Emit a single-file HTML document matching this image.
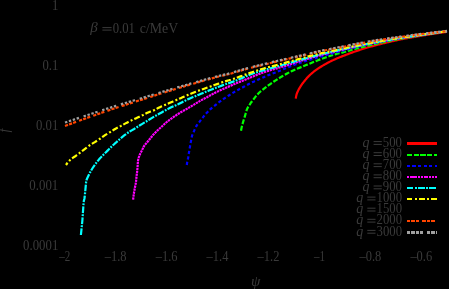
<!DOCTYPE html>
<html><head><meta charset="utf-8"><title>plot</title>
<style>
html,body{margin:0;padding:0;background:#000;}
body{width:449px;height:289px;overflow:hidden;font-family:"Liberation Serif",serif;}
svg{display:block;}
text{font-family:"Liberation Serif",serif;font-size:14px;fill:#3a3a3a;}
.i{font-style:italic;}
g.t{filter:opacity(1);}
path{fill:none;stroke-width:2.2;}
.eq{stroke:#3a3a3a;stroke-width:1;shape-rendering:auto;}
</style></head><body>
<svg width="449" height="289" viewBox="0 0 449 289">
<rect width="449" height="289" fill="#000"/>
<g class="t">
<text x="52.0" y="9.6" textLength="6.3" lengthAdjust="spacingAndGlyphs">1</text>
<text x="42.4" y="70.0" textLength="15.9" lengthAdjust="spacingAndGlyphs">0.1</text>
<text x="35.9" y="129.8" textLength="22.4" lengthAdjust="spacingAndGlyphs">0.01</text>
<text x="29.3" y="189.8" textLength="29.0" lengthAdjust="spacingAndGlyphs">0.001</text>
<text x="23.1" y="249.5" textLength="35.2" lengthAdjust="spacingAndGlyphs">0.0001</text>
<text x="59.2" y="260.8" textLength="11.0" lengthAdjust="spacingAndGlyphs">–2</text>
<text x="104.7" y="260.8" textLength="21.8" lengthAdjust="spacingAndGlyphs">–1.8</text>
<text x="155.7" y="260.8" textLength="21.8" lengthAdjust="spacingAndGlyphs">–1.6</text>
<text x="206.6" y="260.8" textLength="21.8" lengthAdjust="spacingAndGlyphs">–1.4</text>
<text x="257.6" y="260.8" textLength="21.8" lengthAdjust="spacingAndGlyphs">–1.2</text>
<text x="313.9" y="260.8" textLength="11.0" lengthAdjust="spacingAndGlyphs">–1</text>
<text x="359.5" y="260.8" textLength="21.8" lengthAdjust="spacingAndGlyphs">–0.8</text>
<text x="410.4" y="260.8" textLength="21.8" lengthAdjust="spacingAndGlyphs">–0.6</text>
<text x="90.3" y="32.4" class="i" style="font-size:15px">β</text>
<path class="eq" d="M102.4,27.6 H111.6 M102.4,30.1 H111.6"/>
<text x="112.7" y="32.6" textLength="22.3" lengthAdjust="spacingAndGlyphs">0.01</text>
<text x="139.8" y="32.6" textLength="38.4" lengthAdjust="spacingAndGlyphs">c/MeV</text>
<text x="255.7" y="286.3" text-anchor="middle" class="i" style="font-size:15px">ψ</text>
<text transform="translate(8.7,130.5) rotate(-90)" text-anchor="middle" class="i">f</text>
</g>
<path d="M295.80,98.70 L295.89,97.82 L296.02,96.95 L296.18,96.10 L296.37,95.25 L296.57,94.42 L296.84,93.59 L297.15,92.77 L297.50,91.97 L297.88,91.17 L298.26,90.39 L298.65,89.61 L299.06,88.84 L299.50,88.09 L299.95,87.34 L300.42,86.60 L300.89,85.87 L301.37,85.14 L301.87,84.43 L302.38,83.72 L302.90,83.02 L303.43,82.32 L303.97,81.64 L304.51,80.96 L305.06,80.28 L305.61,79.60 L306.18,78.93 L306.75,78.27 L307.33,77.62 L307.93,76.99 L308.53,76.37 L309.15,75.75 L309.78,75.15 L310.42,74.55 L311.07,73.97 L311.73,73.39 L312.39,72.83 L313.07,72.27 L313.74,71.72 L314.43,71.19 L315.12,70.66 L315.82,70.15 L316.53,69.64 L317.25,69.14 L317.97,68.65 L318.70,68.16 L319.43,67.69 L320.17,67.22 L320.90,66.76 L321.65,66.30 L322.39,65.85 L323.14,65.40 L323.89,64.96 L324.65,64.53 L325.41,64.10 L326.17,63.67 L326.94,63.25 L327.71,62.84 L328.48,62.43 L329.25,62.03 L330.03,61.64 L330.81,61.25 L331.59,60.86 L332.38,60.49 L333.16,60.12 L333.96,59.75 L334.75,59.39 L335.55,59.03 L336.35,58.68 L337.15,58.34 L337.95,58.00 L338.76,57.66 L339.56,57.33 L340.38,57.02 L341.19,56.70 L342.00,56.39 L342.82,56.07 L343.63,55.76 L344.44,55.44 L345.25,55.12 L346.07,54.81 L346.88,54.49 L347.69,54.18 L348.51,53.87 L349.33,53.56 L350.14,53.26 L350.96,52.95 L351.78,52.66 L352.60,52.36 L353.42,52.07 L354.24,51.79 L355.07,51.50 L355.89,51.22 L356.72,50.94 L357.54,50.66 L358.37,50.38 L359.20,50.11 L360.03,49.83 L360.86,49.57 L361.69,49.30 L362.52,49.04 L363.35,48.78 L364.18,48.52 L365.02,48.26 L365.85,48.01 L366.69,47.76 L367.52,47.52 L368.36,47.27 L369.20,47.03 L370.04,46.79 L370.88,46.56 L371.72,46.32 L372.56,46.09 L373.40,45.86 L374.24,45.63 L375.08,45.41 L375.93,45.18 L376.77,44.96 L377.61,44.75 L378.46,44.53 L379.30,44.32 L380.15,44.11 L381.00,43.90 L381.84,43.70 L382.69,43.50 L383.54,43.30 L384.39,43.10 L385.24,42.90 L386.09,42.70 L386.94,42.50 L387.79,42.30 L388.63,42.10 L389.48,41.90 L390.33,41.70 L391.18,41.49 L392.02,41.28 L392.87,41.07 L393.72,40.87 L394.57,40.67 L395.42,40.49 L396.27,40.31 L397.13,40.13 L397.98,39.96 L398.83,39.78 L399.69,39.61 L400.54,39.45 L401.40,39.28 L402.25,39.12 L403.11,38.95 L403.97,38.79 L404.83,38.63 L405.68,38.48 L406.54,38.32 L407.40,38.17 L408.26,38.01 L409.12,37.86 L409.98,37.71 L410.84,37.56 L411.70,37.41 L412.56,37.26 L413.42,37.11 L414.27,36.97 L415.13,36.82 L415.99,36.68 L416.85,36.53 L417.71,36.39 L418.57,36.24 L419.43,36.10 L420.29,35.95 L421.15,35.81 L422.01,35.66 L422.87,35.52 L423.73,35.38 L424.59,35.24 L425.45,35.09 L426.31,34.95 L427.17,34.81 L428.03,34.68 L428.89,34.54 L429.76,34.40 L430.62,34.26 L431.48,34.13 L432.34,33.99 L433.20,33.86 L434.06,33.72 L434.92,33.59 L435.79,33.45 L436.65,33.32 L437.51,33.19 L438.37,33.06 L439.23,32.93 L440.10,32.80 L440.96,32.67 L441.82,32.55 L442.68,32.42 L443.55,32.29 L444.41,32.17 L445.27,32.05 L446.14,31.92 L447.00,31.80" stroke="#ff0000" stroke-width="2.9"/>
<path d="M241.00,130.70 L241.23,129.50 L241.48,128.30 L241.74,127.11 L242.03,125.93 L242.34,124.75 L242.67,123.57 L243.00,122.40 L243.34,121.22 L243.69,120.05 L244.05,118.89 L244.41,117.72 L244.78,116.56 L245.13,115.39 L245.47,114.21 L245.79,113.02 L246.12,111.83 L246.47,110.66 L246.87,109.53 L247.35,108.43 L247.91,107.36 L248.55,106.31 L249.23,105.28 L249.92,104.26 L250.61,103.24 L251.30,102.24 L252.02,101.25 L252.75,100.28 L253.50,99.31 L254.25,98.35 L255.01,97.38 L255.77,96.42 L256.55,95.47 L257.34,94.54 L258.16,93.65 L259.02,92.79 L259.92,91.98 L260.85,91.19 L261.81,90.43 L262.78,89.68 L263.75,88.93 L264.71,88.18 L265.68,87.43 L266.65,86.69 L267.63,85.96 L268.61,85.23 L269.60,84.52 L270.59,83.81 L271.59,83.10 L272.59,82.41 L273.60,81.72 L274.62,81.04 L275.63,80.37 L276.66,79.71 L277.69,79.05 L278.73,78.41 L279.77,77.78 L280.82,77.15 L281.87,76.53 L282.92,75.91 L283.98,75.29 L285.03,74.68 L286.09,74.07 L287.16,73.47 L288.23,72.89 L289.32,72.33 L290.41,71.79 L291.51,71.26 L292.62,70.75 L293.73,70.24 L294.85,69.75 L295.97,69.27 L297.09,68.79 L298.22,68.32 L299.35,67.86 L300.48,67.39 L301.61,66.93 L302.74,66.47 L303.87,66.01 L305.00,65.55 L306.13,65.08 L307.26,64.62 L308.38,64.15 L309.51,63.68 L310.64,63.21 L311.77,62.75 L312.90,62.29 L314.03,61.83 L315.17,61.38 L316.30,60.94 L317.44,60.50 L318.58,60.06 L319.72,59.62 L320.86,59.19 L322.01,58.76 L323.15,58.33 L324.30,57.91 L325.45,57.49 L326.60,57.09 L327.75,56.69 L328.90,56.29 L330.06,55.91 L331.22,55.54 L332.39,55.17 L333.55,54.80 L334.72,54.45 L335.90,54.11 L337.07,53.78 L338.25,53.46 L339.44,53.17 L340.63,52.91 L341.82,52.66 L343.01,52.37 L344.19,52.06 L345.36,51.74 L346.54,51.40 L347.71,51.05 L348.88,50.70 L350.05,50.34 L351.22,49.99 L352.39,49.64 L353.56,49.30 L354.73,48.97 L355.91,48.66 L357.09,48.35 L358.28,48.04 L359.46,47.74 L360.64,47.44 L361.83,47.15 L363.01,46.86 L364.20,46.57 L365.39,46.28 L366.57,46.00 L367.76,45.71 L368.95,45.43 L370.14,45.16 L371.33,44.88 L372.52,44.61 L373.71,44.34 L374.90,44.08 L376.09,43.81 L377.28,43.54 L378.48,43.28 L379.67,43.02 L380.86,42.75 L382.05,42.49 L383.24,42.22 L384.44,41.96 L385.63,41.69 L386.82,41.42 L388.01,41.16 L389.20,40.90 L390.40,40.64 L391.59,40.39 L392.79,40.14 L393.98,39.90 L395.18,39.67 L396.38,39.44 L397.58,39.21 L398.78,38.99 L399.98,38.77 L401.18,38.55 L402.38,38.34 L403.58,38.12 L404.79,37.91 L405.99,37.71 L407.19,37.50 L408.40,37.30 L409.60,37.10 L410.81,36.90 L412.01,36.70 L413.22,36.50 L414.42,36.30 L415.63,36.11 L416.83,35.91 L418.04,35.72 L419.24,35.52 L420.45,35.33 L421.65,35.13 L422.86,34.94 L424.06,34.75 L425.27,34.56 L426.47,34.37 L427.68,34.18 L428.89,33.99 L430.09,33.80 L431.30,33.62 L432.51,33.43 L433.71,33.25 L434.92,33.07 L436.13,32.89 L437.33,32.71 L438.54,32.53 L439.75,32.35 L440.96,32.17 L442.17,31.99 L443.37,31.82 L444.58,31.64 L445.79,31.47 L447.00,31.30" stroke="#00ff00" stroke-dasharray="5 1.75"/>
<path d="M186.80,165.00 L187.02,163.43 L187.28,161.88 L187.60,160.33 L187.93,158.79 L188.22,157.23 L188.47,155.67 L188.71,154.11 L188.96,152.55 L189.22,150.99 L189.48,149.44 L189.75,147.88 L190.02,146.32 L190.29,144.77 L190.58,143.21 L190.87,141.66 L191.16,140.11 L191.45,138.54 L191.77,137.00 L192.16,135.48 L192.69,134.01 L193.34,132.56 L194.02,131.12 L194.67,129.67 L195.31,128.22 L196.00,126.79 L196.76,125.43 L197.67,124.15 L198.66,122.91 L199.65,121.67 L200.61,120.41 L201.57,119.15 L202.54,117.91 L203.52,116.68 L204.52,115.45 L205.53,114.24 L206.57,113.05 L207.65,111.89 L208.75,110.75 L209.88,109.64 L211.04,108.58 L212.25,107.57 L213.49,106.60 L214.75,105.63 L215.99,104.65 L217.21,103.65 L218.44,102.66 L219.70,101.70 L220.97,100.77 L222.25,99.85 L223.55,98.94 L224.85,98.05 L226.17,97.18 L227.50,96.32 L228.83,95.47 L230.15,94.61 L231.48,93.76 L232.82,92.91 L234.16,92.08 L235.51,91.26 L236.88,90.47 L238.26,89.71 L239.66,88.98 L241.07,88.26 L242.46,87.52 L243.84,86.75 L245.22,85.97 L246.59,85.19 L247.98,84.45 L249.39,83.72 L250.80,83.02 L252.22,82.33 L253.66,81.66 L255.10,81.02 L256.54,80.38 L257.99,79.75 L259.44,79.11 L260.88,78.47 L262.33,77.84 L263.77,77.20 L265.21,76.56 L266.66,75.92 L268.11,75.30 L269.57,74.70 L271.04,74.12 L272.52,73.56 L273.99,72.99 L275.47,72.43 L276.95,71.88 L278.42,71.31 L279.88,70.71 L281.33,70.08 L282.78,69.45 L284.24,68.83 L285.69,68.22 L287.15,67.62 L288.62,67.04 L290.09,66.47 L291.57,65.90 L293.05,65.34 L294.53,64.79 L296.02,64.26 L297.50,63.73 L299.00,63.21 L300.49,62.70 L301.99,62.21 L303.49,61.73 L305.00,61.25 L306.51,60.78 L308.02,60.32 L309.53,59.87 L311.05,59.42 L312.56,58.97 L314.08,58.53 L315.60,58.08 L317.11,57.64 L318.63,57.21 L320.15,56.78 L321.67,56.35 L323.19,55.93 L324.71,55.50 L326.24,55.08 L327.76,54.66 L329.28,54.23 L330.80,53.81 L332.32,53.39 L333.85,52.97 L335.37,52.55 L336.89,52.14 L338.42,51.73 L339.95,51.32 L341.47,50.92 L343.00,50.52 L344.53,50.12 L346.06,49.73 L347.59,49.33 L349.12,48.94 L350.65,48.56 L352.19,48.17 L353.72,47.80 L355.25,47.42 L356.79,47.05 L358.33,46.69 L359.86,46.33 L361.40,45.97 L362.94,45.62 L364.48,45.27 L366.03,44.93 L367.57,44.59 L369.11,44.25 L370.66,43.92 L372.20,43.59 L373.75,43.27 L375.29,42.95 L376.84,42.63 L378.39,42.32 L379.94,42.01 L381.49,41.71 L383.04,41.40 L384.59,41.10 L386.14,40.81 L387.69,40.52 L389.25,40.23 L390.80,39.95 L392.36,39.67 L393.91,39.39 L395.47,39.12 L397.02,38.85 L398.58,38.59 L400.14,38.33 L401.70,38.07 L403.25,37.81 L404.81,37.56 L406.37,37.31 L407.93,37.06 L409.49,36.82 L411.06,36.57 L412.62,36.33 L414.18,36.09 L415.74,35.85 L417.30,35.61 L418.86,35.37 L420.42,35.14 L421.99,34.90 L423.55,34.66 L425.11,34.43 L426.67,34.20 L428.23,33.97 L429.80,33.74 L431.36,33.51 L432.92,33.28 L434.49,33.06 L436.05,32.83 L437.61,32.61 L439.18,32.39 L440.74,32.17 L442.31,31.95 L443.87,31.73 L445.43,31.51 L447.00,31.30" stroke="#0000ff" stroke-dasharray="3.2 2.4"/>
<path d="M133.10,199.70 L133.32,197.77 L133.56,195.85 L133.83,193.93 L134.12,192.01 L134.46,190.10 L134.81,188.20 L135.18,186.29 L135.58,184.39 L135.93,182.48 L136.15,180.56 L136.32,178.63 L136.49,176.70 L136.72,174.77 L136.98,172.85 L137.21,170.92 L137.39,168.99 L137.55,167.06 L137.70,165.12 L137.82,163.18 L137.96,161.24 L138.21,159.35 L138.74,157.48 L139.44,155.65 L140.19,153.87 L141.06,152.13 L141.95,150.40 L142.77,148.63 L143.62,146.88 L144.61,145.24 L145.85,143.75 L147.15,142.30 L148.38,140.79 L149.59,139.28 L150.81,137.77 L152.03,136.26 L153.27,134.77 L154.56,133.33 L155.92,131.95 L157.33,130.62 L158.76,129.31 L160.20,128.01 L161.63,126.70 L163.05,125.37 L164.48,124.05 L165.92,122.75 L167.40,121.50 L168.92,120.31 L170.48,119.16 L172.07,118.04 L173.66,116.94 L175.27,115.84 L176.88,114.77 L178.51,113.71 L180.15,112.68 L181.81,111.68 L183.49,110.72 L185.19,109.78 L186.89,108.84 L188.57,107.87 L190.23,106.88 L191.89,105.88 L193.55,104.87 L195.21,103.86 L196.86,102.84 L198.51,101.83 L200.18,100.84 L201.87,99.90 L203.58,98.99 L205.30,98.09 L207.02,97.18 L208.72,96.25 L210.41,95.30 L212.10,94.35 L213.81,93.43 L215.53,92.54 L217.27,91.68 L219.02,90.86 L220.78,90.05 L222.55,89.25 L224.33,88.46 L226.10,87.68 L227.87,86.90 L229.65,86.13 L231.44,85.37 L233.22,84.61 L235.01,83.85 L236.80,83.10 L238.58,82.36 L240.38,81.61 L242.17,80.88 L243.97,80.15 L245.76,79.42 L247.55,78.68 L249.34,77.92 L251.13,77.16 L252.92,76.42 L254.72,75.70 L256.52,75.00 L258.34,74.31 L260.16,73.64 L261.98,72.97 L263.80,72.32 L265.64,71.69 L267.48,71.09 L269.33,70.51 L271.19,69.95 L273.05,69.41 L274.91,68.87 L276.77,68.33 L278.64,67.79 L280.50,67.25 L282.37,66.73 L284.23,66.19 L286.09,65.63 L287.94,65.06 L289.79,64.47 L291.63,63.87 L293.47,63.26 L295.32,62.66 L297.16,62.05 L299.00,61.46 L300.85,60.87 L302.70,60.30 L304.56,59.74 L306.42,59.18 L308.28,58.62 L310.14,58.07 L312.00,57.53 L313.86,56.99 L315.73,56.46 L317.59,55.94 L319.46,55.42 L321.33,54.92 L323.21,54.42 L325.08,53.94 L326.96,53.46 L328.85,53.00 L330.73,52.53 L332.61,52.08 L334.50,51.62 L336.39,51.17 L338.27,50.72 L340.16,50.26 L342.04,49.81 L343.93,49.35 L345.81,48.89 L347.70,48.44 L349.58,47.99 L351.47,47.54 L353.36,47.10 L355.25,46.67 L357.14,46.24 L359.03,45.83 L360.93,45.42 L362.83,45.02 L364.72,44.63 L366.62,44.24 L368.53,43.86 L370.43,43.48 L372.33,43.10 L374.23,42.73 L376.14,42.37 L378.04,42.00 L379.95,41.63 L381.85,41.27 L383.76,40.91 L385.66,40.56 L387.57,40.20 L389.48,39.86 L391.39,39.52 L393.30,39.19 L395.21,38.86 L397.12,38.55 L399.04,38.24 L400.95,37.94 L402.87,37.64 L404.78,37.35 L406.70,37.06 L408.62,36.77 L410.54,36.49 L412.46,36.21 L414.38,35.93 L416.30,35.65 L418.21,35.36 L420.13,35.08 L422.05,34.80 L423.97,34.51 L425.89,34.23 L427.81,33.95 L429.72,33.67 L431.64,33.39 L433.56,33.12 L435.48,32.84 L437.40,32.56 L439.32,32.29 L441.24,32.01 L443.16,31.74 L445.08,31.47 L447.00,31.20" stroke="#ff00ff" stroke-dasharray="2.3 0.7"/>
<path d="M80.90,235.00 L81.14,232.72 L81.37,230.44 L81.60,228.15 L81.83,225.87 L82.06,223.59 L82.29,221.31 L82.48,219.02 L82.64,216.73 L82.79,214.44 L82.94,212.15 L83.11,209.86 L83.27,207.57 L83.42,205.27 L83.62,202.98 L83.88,200.72 L84.46,198.50 L84.77,196.24 L84.98,193.95 L85.20,191.66 L85.42,189.38 L85.63,187.09 L85.85,184.80 L86.06,182.50 L86.42,180.27 L87.24,178.14 L88.28,176.05 L89.27,173.98 L90.32,171.94 L91.45,169.95 L92.67,168.00 L93.94,166.09 L95.26,164.22 L96.65,162.38 L98.08,160.59 L99.56,158.84 L101.09,157.13 L102.68,155.48 L104.32,153.87 L105.95,152.25 L107.57,150.63 L109.19,149.01 L110.80,147.37 L112.42,145.75 L114.11,144.20 L115.86,142.71 L117.57,141.18 L119.23,139.60 L120.95,138.08 L122.71,136.61 L124.51,135.19 L126.35,133.82 L128.23,132.50 L130.15,131.24 L132.13,130.09 L134.13,128.96 L136.08,127.76 L138.01,126.51 L139.94,125.27 L141.90,124.09 L143.88,122.92 L145.84,121.72 L147.78,120.51 L149.73,119.30 L151.69,118.11 L153.66,116.93 L155.64,115.77 L157.64,114.64 L159.64,113.53 L161.65,112.42 L163.65,111.30 L165.67,110.20 L167.70,109.13 L169.74,108.08 L171.80,107.07 L173.88,106.11 L176.00,105.22 L178.08,104.27 L180.13,103.23 L182.16,102.17 L184.21,101.13 L186.26,100.10 L188.33,99.12 L190.44,98.21 L192.55,97.32 L194.67,96.43 L196.78,95.54 L198.90,94.66 L201.02,93.79 L203.15,92.92 L205.27,92.06 L207.39,91.19 L209.52,90.33 L211.65,89.48 L213.79,88.64 L215.93,87.81 L218.07,86.99 L220.21,86.17 L222.36,85.37 L224.52,84.59 L226.68,83.83 L228.86,83.10 L231.04,82.38 L233.20,81.63 L235.34,80.81 L237.47,79.95 L239.59,79.05 L241.70,78.14 L243.81,77.23 L245.92,76.32 L248.04,75.44 L250.17,74.60 L252.31,73.80 L254.48,73.07 L256.66,72.37 L258.86,71.70 L261.06,71.06 L263.27,70.42 L265.47,69.78 L267.68,69.15 L269.89,68.52 L272.10,67.91 L274.31,67.30 L276.52,66.69 L278.73,66.07 L280.93,65.44 L283.14,64.81 L285.35,64.18 L287.55,63.54 L289.76,62.91 L291.96,62.28 L294.17,61.65 L296.38,61.03 L298.59,60.42 L300.80,59.80 L303.01,59.18 L305.21,58.56 L307.42,57.94 L309.64,57.33 L311.85,56.72 L314.06,56.12 L316.28,55.53 L318.50,54.94 L320.72,54.37 L322.94,53.81 L325.17,53.27 L327.40,52.73 L329.63,52.20 L331.87,51.68 L334.10,51.16 L336.34,50.64 L338.57,50.13 L340.81,49.61 L343.04,49.10 L345.28,48.58 L347.52,48.07 L349.75,47.56 L351.99,47.06 L354.23,46.56 L356.47,46.07 L358.72,45.60 L360.96,45.13 L363.21,44.67 L365.46,44.22 L367.71,43.78 L369.96,43.34 L372.21,42.90 L374.47,42.48 L376.72,42.05 L378.98,41.63 L381.23,41.21 L383.49,40.80 L385.75,40.39 L388.01,39.99 L390.27,39.60 L392.53,39.21 L394.79,38.83 L397.06,38.46 L399.32,38.10 L401.59,37.75 L403.85,37.40 L406.12,37.05 L408.39,36.71 L410.66,36.37 L412.93,36.04 L415.20,35.70 L417.47,35.37 L419.74,35.04 L422.01,34.71 L424.28,34.38 L426.55,34.05 L428.82,33.73 L431.09,33.40 L433.36,33.08 L435.64,32.76 L437.91,32.45 L440.18,32.13 L442.45,31.82 L444.73,31.51 L447.00,31.20" stroke="#00ffff" stroke-dasharray="6.7 1.3 1.8 1.2"/>
<path d="M66.00,165.00 L67.19,163.28 L68.49,161.67 L69.89,160.20 L71.43,158.88 L73.11,157.69 L74.82,156.51 L76.47,155.29 L78.13,154.07 L79.78,152.84 L81.42,151.60 L83.06,150.36 L84.69,149.11 L86.32,147.86 L87.95,146.60 L89.60,145.38 L91.31,144.25 L93.07,143.18 L94.83,142.11 L96.56,140.99 L98.28,139.86 L99.98,138.72 L101.67,137.54 L103.34,136.34 L105.03,135.17 L106.77,134.08 L108.54,133.03 L110.31,131.98 L112.05,130.89 L113.79,129.78 L115.55,128.73 L117.36,127.76 L119.20,126.83 L121.03,125.89 L122.83,124.90 L124.62,123.89 L126.42,122.90 L128.25,121.95 L130.09,121.03 L131.94,120.13 L133.80,119.26 L135.66,118.40 L137.53,117.54 L139.40,116.68 L141.26,115.81 L143.13,114.94 L144.97,114.03 L146.82,113.12 L148.69,112.28 L150.61,111.54 L152.55,110.84 L154.44,110.05 L156.26,109.10 L158.06,108.09 L159.89,107.17 L161.77,106.33 L163.67,105.53 L165.55,104.72 L167.44,103.90 L169.33,103.08 L171.21,102.26 L173.10,101.44 L174.98,100.62 L176.87,99.79 L178.75,98.97 L180.64,98.15 L182.52,97.33 L184.41,96.51 L186.29,95.68 L188.18,94.86 L190.06,94.04 L191.96,93.25 L193.86,92.48 L195.78,91.74 L197.71,91.02 L199.64,90.32 L201.58,89.62 L203.51,88.93 L205.45,88.24 L207.38,87.55 L209.32,86.86 L211.26,86.17 L213.20,85.49 L215.14,84.81 L217.08,84.13 L219.02,83.43 L220.95,82.74 L222.90,82.06 L224.85,81.41 L226.81,80.83 L228.81,80.31 L230.77,79.73 L232.73,79.10 L234.68,78.44 L236.62,77.76 L238.56,77.08 L240.50,76.40 L242.44,75.71 L244.37,75.00 L246.30,74.28 L248.23,73.56 L250.16,72.86 L252.10,72.17 L254.04,71.52 L256.00,70.87 L257.95,70.24 L259.92,69.63 L261.88,69.02 L263.85,68.44 L265.83,67.88 L267.82,67.35 L269.81,66.83 L271.80,66.34 L273.80,65.84 L275.79,65.35 L277.79,64.83 L279.77,64.30 L281.75,63.75 L283.74,63.20 L285.72,62.66 L287.70,62.11 L289.68,61.57 L291.67,61.03 L293.65,60.48 L295.63,59.94 L297.61,59.39 L299.60,58.84 L301.58,58.29 L303.56,57.74 L305.54,57.20 L307.53,56.66 L309.51,56.14 L311.50,55.63 L313.50,55.12 L315.49,54.62 L317.49,54.13 L319.49,53.65 L321.49,53.18 L323.49,52.73 L325.50,52.29 L327.51,51.85 L329.52,51.43 L331.54,51.00 L333.55,50.58 L335.56,50.14 L337.57,49.71 L339.58,49.27 L341.59,48.84 L343.60,48.40 L345.61,47.97 L347.62,47.54 L349.63,47.11 L351.64,46.69 L353.65,46.27 L355.67,45.86 L357.68,45.45 L359.70,45.04 L361.71,44.64 L363.73,44.24 L365.75,43.84 L367.77,43.44 L369.78,43.05 L371.80,42.67 L373.82,42.29 L375.85,41.91 L377.87,41.54 L379.89,41.17 L381.92,40.81 L383.94,40.45 L385.97,40.10 L387.99,39.75 L390.02,39.41 L392.05,39.07 L394.08,38.75 L396.11,38.43 L398.14,38.11 L400.17,37.81 L402.21,37.51 L404.24,37.22 L406.28,36.93 L408.31,36.64 L410.35,36.35 L412.39,36.07 L414.42,35.78 L416.46,35.50 L418.50,35.21 L420.53,34.92 L422.57,34.63 L424.60,34.35 L426.64,34.06 L428.67,33.77 L430.71,33.48 L432.75,33.19 L434.78,32.91 L436.82,32.62 L438.85,32.34 L440.89,32.05 L442.93,31.77 L444.96,31.48 L447.00,31.20" stroke="#ffff00" stroke-dasharray="6 2.3 2 2" stroke-dashoffset="3.3"/>
<path d="M65.00,125.95 L66.86,125.26 L68.72,124.58 L70.58,123.89 L72.44,123.21 L74.30,122.53 L76.17,121.85 L78.03,121.17 L79.90,120.50 L81.76,119.83 L83.63,119.16 L85.49,118.49 L87.36,117.82 L89.23,117.16 L91.10,116.50 L92.97,115.83 L94.84,115.17 L96.71,114.51 L98.58,113.85 L100.45,113.20 L102.32,112.54 L104.19,111.89 L106.07,111.25 L107.94,110.60 L109.82,109.96 L111.70,109.33 L113.58,108.70 L115.46,108.07 L117.34,107.45 L119.22,106.84 L121.11,106.22 L123.00,105.62 L124.89,105.01 L126.77,104.41 L128.66,103.81 L130.56,103.21 L132.45,102.62 L134.34,102.02 L136.23,101.42 L138.12,100.82 L140.01,100.22 L141.90,99.62 L143.78,99.02 L145.67,98.41 L147.56,97.80 L149.45,97.19 L151.33,96.58 L153.22,95.98 L155.11,95.37 L157.00,94.76 L158.88,94.16 L160.77,93.55 L162.66,92.95 L164.55,92.36 L166.45,91.76 L168.34,91.18 L170.23,90.59 L172.13,90.01 L174.02,89.43 L175.92,88.86 L177.82,88.28 L179.72,87.71 L181.62,87.14 L183.52,86.58 L185.42,86.01 L187.32,85.45 L189.22,84.89 L191.13,84.33 L193.03,83.78 L194.93,83.22 L196.84,82.67 L198.74,82.12 L200.65,81.57 L202.55,81.03 L204.46,80.48 L206.36,79.93 L208.27,79.39 L210.18,78.85 L212.09,78.33 L214.01,77.81 L215.92,77.30 L217.84,76.80 L219.77,76.33 L221.70,75.88 L223.63,75.43 L225.56,74.97 L227.48,74.49 L229.40,73.99 L231.31,73.46 L233.21,72.90 L235.11,72.33 L237.01,71.75 L238.90,71.17 L240.80,70.59 L242.70,70.02 L244.60,69.47 L246.51,68.94 L248.43,68.43 L250.35,67.94 L252.27,67.45 L254.20,66.98 L256.12,66.51 L258.05,66.04 L259.98,65.58 L261.91,65.12 L263.84,64.65 L265.76,64.19 L267.69,63.72 L269.62,63.25 L271.54,62.78 L273.47,62.31 L275.40,61.85 L277.32,61.38 L279.25,60.92 L281.18,60.47 L283.11,60.01 L285.04,59.56 L286.97,59.12 L288.91,58.68 L290.84,58.24 L292.78,57.80 L294.71,57.37 L296.64,56.93 L298.58,56.49 L300.51,56.05 L302.44,55.61 L304.37,55.16 L306.30,54.69 L308.23,54.23 L310.16,53.76 L312.08,53.29 L314.01,52.82 L315.94,52.37 L317.87,51.92 L319.80,51.48 L321.74,51.06 L323.68,50.66 L325.63,50.27 L327.57,49.89 L329.52,49.52 L331.47,49.15 L333.42,48.78 L335.36,48.41 L337.31,48.04 L339.26,47.65 L341.20,47.26 L343.14,46.86 L345.08,46.46 L347.03,46.06 L348.97,45.66 L350.91,45.26 L352.85,44.86 L354.80,44.47 L356.74,44.09 L358.69,43.71 L360.64,43.35 L362.59,42.98 L364.54,42.62 L366.49,42.27 L368.44,41.92 L370.39,41.58 L372.35,41.24 L374.30,40.91 L376.26,40.58 L378.21,40.27 L380.17,39.96 L382.13,39.65 L384.09,39.36 L386.05,39.06 L388.01,38.78 L389.98,38.49 L391.94,38.21 L393.90,37.93 L395.86,37.65 L397.83,37.37 L399.79,37.09 L401.75,36.82 L403.72,36.54 L405.68,36.27 L407.65,36.00 L409.61,35.73 L411.58,35.47 L413.54,35.21 L415.51,34.95 L417.47,34.69 L419.44,34.44 L421.41,34.19 L423.37,33.94 L425.34,33.70 L427.31,33.45 L429.27,33.21 L431.24,32.97 L433.21,32.74 L435.18,32.50 L437.15,32.27 L439.12,32.04 L441.09,31.81 L443.06,31.59 L445.03,31.37 L447.00,31.15" stroke="#ff4500" stroke-dasharray="3.2 1.1 3.2 1.1 3.2 3.2" stroke-width="2"/>
<path d="M65.00,122.55 L66.87,121.92 L68.75,121.29 L70.63,120.66 L72.50,120.03 L74.38,119.40 L76.25,118.78 L78.13,118.15 L80.01,117.53 L81.89,116.91 L83.76,116.29 L85.64,115.67 L87.52,115.05 L89.40,114.43 L91.28,113.81 L93.16,113.19 L95.04,112.57 L96.92,111.96 L98.79,111.34 L100.67,110.72 L102.56,110.11 L104.44,109.50 L106.32,108.89 L108.20,108.28 L110.09,107.68 L111.97,107.08 L113.86,106.49 L115.75,105.90 L117.64,105.32 L119.53,104.74 L121.42,104.17 L123.31,103.59 L125.21,103.03 L127.10,102.46 L129.00,101.89 L130.90,101.33 L132.79,100.77 L134.69,100.20 L136.58,99.64 L138.48,99.07 L140.37,98.50 L142.27,97.93 L144.16,97.36 L146.05,96.78 L147.95,96.20 L149.84,95.63 L151.73,95.05 L153.62,94.47 L155.51,93.89 L157.41,93.31 L159.30,92.74 L161.19,92.16 L163.08,91.59 L164.98,91.02 L166.87,90.46 L168.77,89.90 L170.67,89.34 L172.57,88.78 L174.47,88.23 L176.36,87.67 L178.26,87.12 L180.16,86.57 L182.07,86.03 L183.97,85.48 L185.87,84.94 L187.77,84.40 L189.68,83.86 L191.58,83.32 L193.48,82.78 L195.39,82.25 L197.29,81.71 L199.20,81.18 L201.10,80.65 L203.01,80.11 L204.91,79.58 L206.82,79.05 L208.72,78.52 L210.63,78.00 L212.54,77.49 L214.46,76.98 L216.37,76.49 L218.29,76.01 L220.22,75.56 L222.15,75.12 L224.08,74.69 L226.00,74.24 L227.92,73.77 L229.84,73.27 L231.74,72.74 L233.64,72.19 L235.53,71.62 L237.43,71.04 L239.32,70.46 L241.21,69.88 L243.11,69.32 L245.01,68.77 L246.92,68.25 L248.83,67.75 L250.75,67.26 L252.67,66.79 L254.59,66.31 L256.51,65.85 L258.44,65.39 L260.36,64.93 L262.29,64.47 L264.21,64.01 L266.13,63.55 L268.05,63.08 L269.98,62.62 L271.90,62.15 L273.82,61.69 L275.75,61.23 L277.67,60.77 L279.60,60.31 L281.52,59.86 L283.45,59.41 L285.38,58.97 L287.30,58.53 L289.23,58.09 L291.16,57.66 L293.09,57.22 L295.02,56.79 L296.95,56.36 L298.88,55.92 L300.81,55.48 L302.74,55.04 L304.67,54.59 L306.59,54.13 L308.52,53.67 L310.44,53.20 L312.36,52.74 L314.29,52.28 L316.21,51.82 L318.14,51.38 L320.07,50.95 L322.00,50.54 L323.94,50.14 L325.88,49.76 L327.82,49.38 L329.76,49.01 L331.71,48.65 L333.65,48.28 L335.60,47.91 L337.54,47.54 L339.48,47.16 L341.42,46.77 L343.36,46.38 L345.30,45.98 L347.24,45.58 L349.17,45.18 L351.11,44.79 L353.05,44.39 L354.99,44.01 L356.93,43.63 L358.87,43.26 L360.82,42.89 L362.76,42.54 L364.71,42.18 L366.66,41.83 L368.60,41.49 L370.55,41.15 L372.50,40.81 L374.45,40.48 L376.41,40.16 L378.36,39.85 L380.31,39.54 L382.27,39.24 L384.22,38.95 L386.18,38.66 L388.14,38.38 L390.10,38.10 L392.06,37.82 L394.01,37.54 L395.97,37.26 L397.93,36.99 L399.89,36.71 L401.85,36.44 L403.81,36.17 L405.77,35.90 L407.73,35.64 L409.69,35.37 L411.65,35.11 L413.61,34.85 L415.57,34.60 L417.54,34.34 L419.50,34.09 L421.46,33.85 L423.42,33.60 L425.39,33.36 L427.35,33.12 L429.31,32.88 L431.28,32.65 L433.24,32.41 L435.21,32.18 L437.17,31.96 L439.14,31.73 L441.10,31.51 L443.07,31.28 L445.03,31.07 L447.00,30.85" stroke="#a0a0a0" stroke-dasharray="2.4 1.7 2.4 1.7 2.4 1.7 2.4 4.9" stroke-width="2"/>
<g class="t">
<text x="382.8" y="146.7" textLength="19.2" lengthAdjust="spacingAndGlyphs">500</text>
<path class="eq" d="M373.6,141.6 h8.2 M373.6,144.4 h8.2"/>
<text x="362.6" y="146.7" class="i">q</text>
<path d="M407,142h30v3h-30z" style="fill:#ff0000;stroke:none"/>
<text x="382.8" y="157.8" textLength="19.2" lengthAdjust="spacingAndGlyphs">600</text>
<path class="eq" d="M373.6,152.7 h8.2 M373.6,155.5 h8.2"/>
<text x="362.6" y="157.8" class="i">q</text>
<path d="M407,154h5v2h-5zM414,154h5v2h-5zM420,154h6v2h-6zM427,154h5v2h-5zM434,154h3v2h-3z" style="fill:#00ff00;stroke:none"/>
<text x="382.8" y="168.9" textLength="19.2" lengthAdjust="spacingAndGlyphs">700</text>
<path class="eq" d="M373.6,163.8 h8.2 M373.6,166.6 h8.2"/>
<text x="362.6" y="168.9" class="i">q</text>
<path d="M407,165h3v2h-3zM412,165h4v2h-4zM418,165h3v2h-3zM424,165h3v2h-3zM429,165h3v2h-3zM435,165h2v2h-2z" style="fill:#0000ff;stroke:none"/>
<text x="382.8" y="180.0" textLength="19.2" lengthAdjust="spacingAndGlyphs">800</text>
<path class="eq" d="M373.6,174.9 h8.2 M373.6,177.7 h8.2"/>
<text x="362.6" y="180.0" class="i">q</text>
<path d="M407,176h2v2h-2zM410,176h7v2h-7zM418,176h2v2h-2zM421,176h2v2h-2zM424,176h4v2h-4zM429,176h2v2h-2zM432,176h2v2h-2zM435,176h2v2h-2z" style="fill:#ff00ff;stroke:none"/>
<text x="382.8" y="191.1" textLength="19.2" lengthAdjust="spacingAndGlyphs">900</text>
<path class="eq" d="M373.6,186.0 h8.2 M373.6,188.8 h8.2"/>
<text x="362.6" y="191.1" class="i">q</text>
<path d="M407,187h6v2h-6zM415,187h2v2h-2zM418,187h7v2h-7zM426,187h2v2h-2zM429,187h7v2h-7z" style="fill:#00ffff;stroke:none"/>
<text x="376.5" y="202.2" textLength="25.5" lengthAdjust="spacingAndGlyphs">1000</text>
<path class="eq" d="M367.3,197.1 h8.2 M367.3,199.9 h8.2"/>
<text x="356.3" y="202.2" class="i">q</text>
<path d="M407,198h5v2h-5zM415,198h2v2h-2zM419,198h6v2h-6zM427,198h2v2h-2zM431,198h6v2h-6z" style="fill:#ffff00;stroke:none"/>
<text x="376.5" y="213.3" textLength="25.5" lengthAdjust="spacingAndGlyphs">1500</text>
<path class="eq" d="M367.3,208.2 h8.2 M367.3,211.0 h8.2"/>
<text x="356.3" y="213.3" class="i">q</text>
<text x="376.5" y="224.4" textLength="25.5" lengthAdjust="spacingAndGlyphs">2000</text>
<path class="eq" d="M367.3,219.3 h8.2 M367.3,222.1 h8.2"/>
<text x="356.3" y="224.4" class="i">q</text>
<path d="M407,220h3v2h-3zM411,220h4v2h-4zM416,220h3v2h-3zM422,220h4v2h-4zM427,220h3v2h-3zM431,220h4v2h-4z" style="fill:#ff4500;stroke:none"/>
<text x="376.5" y="235.5" textLength="25.5" lengthAdjust="spacingAndGlyphs">3000</text>
<path class="eq" d="M367.3,230.4 h8.2 M367.3,233.2 h8.2"/>
<text x="356.3" y="235.5" class="i">q</text>
<path d="M407,231h3v3h-3zM411,231h4v3h-4zM416,231h3v3h-3zM420,231h3v3h-3zM427,231h3v3h-3zM431,231h4v3h-4zM436,231h1v3h-1z" style="fill:#a0a0a0;stroke:none"/>
</g>
</svg></body></html>
